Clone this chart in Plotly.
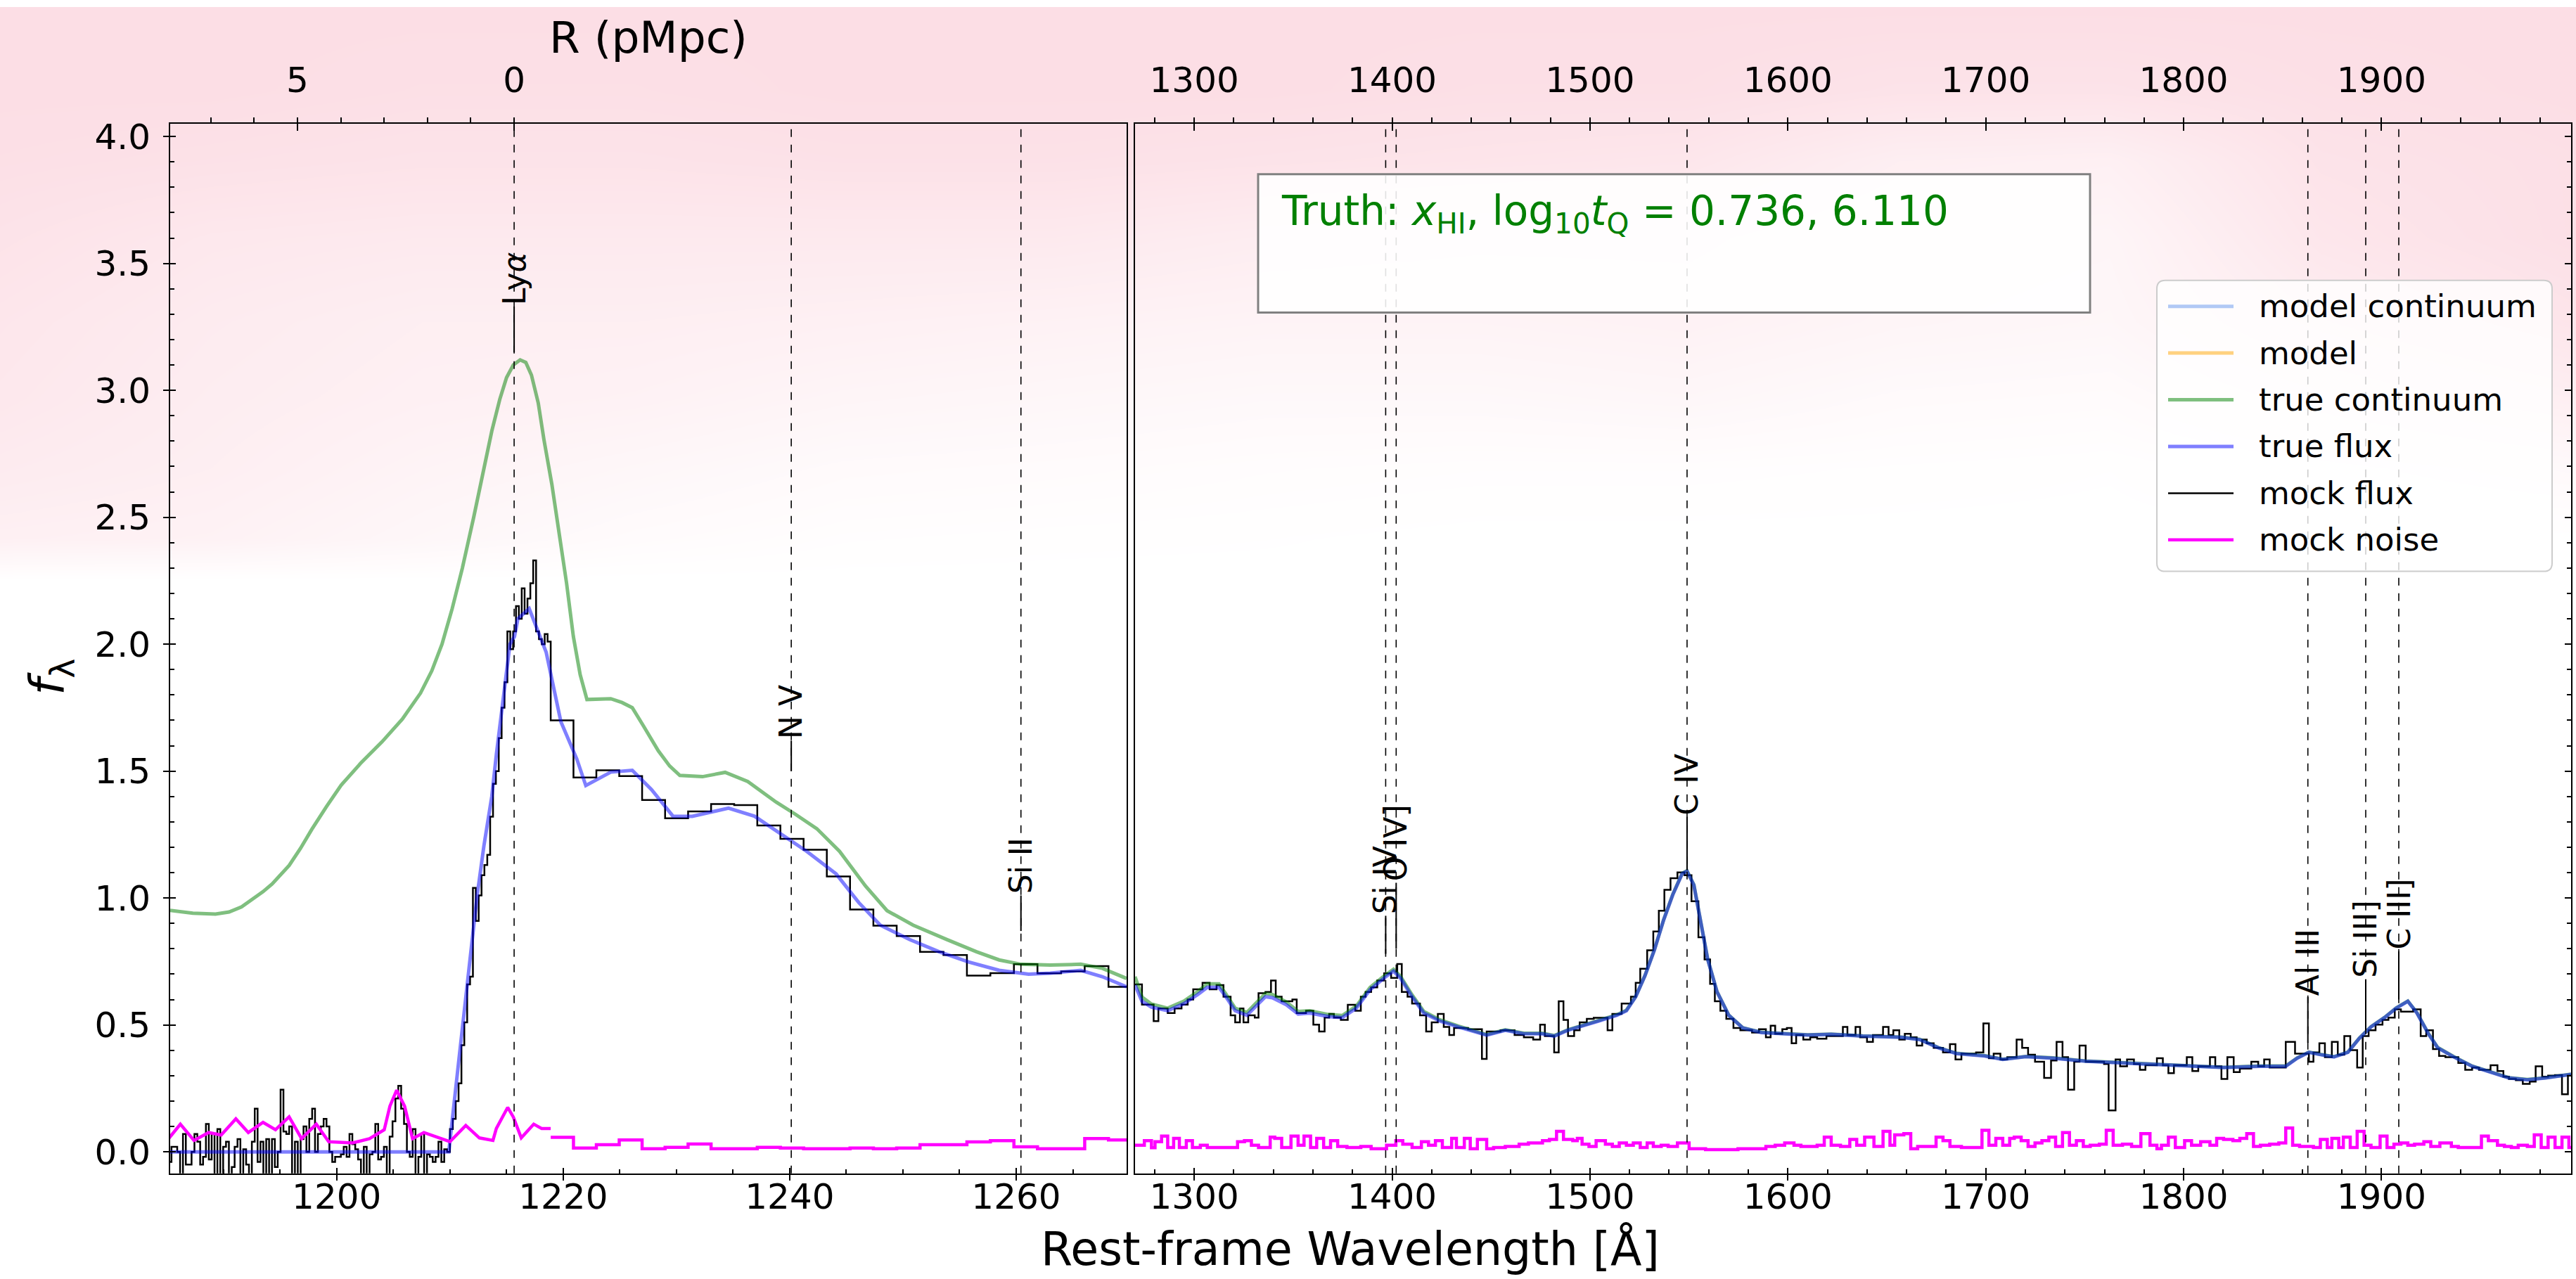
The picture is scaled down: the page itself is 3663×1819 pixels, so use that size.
import numpy as np
import plotly.graph_objects as go

W, H = 3663, 1819
FONT = "DejaVu Sans"

# ---------------------------------------------------------------------------
# Spectral data (rest-frame wavelength in Angstrom, flux f_lambda)
# ---------------------------------------------------------------------------
LYA = 1215.67
PMPC_PER_ANGSTROM = 1 / 3.826          # proper distance from the quasar per Angstrom blueward of Ly-alpha

LEFT_RANGE = [1185.3, 1269.75]
RIGHT_RANGE = [1270.1, 1995.8]
Y_RANGE = [-0.085, 4.05]

# true continuum, Ly-alpha panel
TRUE_CONT_LEFT = [
    (1185.3, 0.951), (1187.3, 0.94), (1189.3, 0.937), (1190.5, 0.945), (1191.6, 0.965),
    (1192.7, 0.998), (1193.5, 1.025), (1194.3, 1.055), (1195.8, 1.128), (1196.8, 1.195),
    (1197.8, 1.27), (1199.1, 1.36), (1200.4, 1.445), (1202.1, 1.53), (1204.0, 1.615),
    (1205.8, 1.705), (1207.4, 1.807), (1208.4, 1.895), (1209.3, 2.0), (1210.2, 2.14),
    (1211.1, 2.30), (1212.1, 2.50), (1213.0, 2.695), (1213.7, 2.84), (1214.4, 2.964),
    (1215.0, 3.05), (1215.6, 3.10), (1216.2, 3.12), (1216.7, 3.11), (1217.2, 3.06),
    (1217.8, 2.95), (1218.3, 2.806), (1219.0, 2.63), (1219.6, 2.457), (1220.3, 2.24),
    (1220.9, 2.03), (1221.5, 1.88), (1222.1, 1.782), (1224.2, 1.785), (1225.2, 1.77),
    (1226.1, 1.750), (1227.1, 1.677), (1228.4, 1.580), (1229.4, 1.52), (1230.3, 1.483),
    (1232.3, 1.478), (1234.3, 1.495), (1236.3, 1.459), (1238.8, 1.378), (1240.5, 1.33),
    (1242.4, 1.273), (1244.4, 1.184), (1246.7, 1.047), (1248.6, 0.95), (1250.9, 0.893),
    (1253.9, 0.836), (1256.5, 0.788), (1258.5, 0.756), (1260.4, 0.739), (1263.0, 0.736),
    (1265.7, 0.739), (1267.6, 0.723), (1269.75, 0.683),
]

# true (absorbed) flux, Ly-alpha panel
TRUE_FLUX_LEFT = [
    (1185.3, 0.0), (1209.9, 0.0), (1210.5, 0.245), (1211.1, 0.474), (1211.8, 0.768),
    (1212.4, 1.008), (1213.0, 1.205), (1213.7, 1.401), (1214.1, 1.565), (1215.3, 2.0),
    (1215.7, 2.03), (1216.0, 2.10), (1217.0, 2.14), (1218.5, 1.968), (1219.8, 1.694),
    (1221.2, 1.548), (1222.0, 1.443), (1224.2, 1.496), (1226.1, 1.503), (1227.8, 1.427),
    (1229.7, 1.322), (1231.4, 1.322), (1233.0, 1.337), (1234.6, 1.354), (1236.9, 1.322),
    (1238.8, 1.265), (1241.5, 1.184), (1244.1, 1.095), (1246.1, 0.982), (1248.0, 0.893),
    (1250.6, 0.836), (1253.2, 0.788), (1255.8, 0.748), (1258.5, 0.715), (1261.1, 0.70),
    (1263.0, 0.704), (1265.7, 0.715), (1267.6, 0.69), (1269.75, 0.65),
]

# true continuum, red-side panel
TRUE_CONT_RIGHT = [
    (1270.1, 0.69), (1273.6, 0.61), (1278.4, 0.582), (1286.6, 0.566), (1294.8, 0.594),
    (1301.9, 0.632), (1306.6, 0.662), (1312.5, 0.662), (1316.0, 0.622), (1320.7, 0.566),
    (1326.6, 0.549), (1331.3, 0.587), (1336.0, 0.624), (1339.5, 0.62), (1346.6, 0.59),
    (1352.5, 0.553), (1358.4, 0.556), (1367.8, 0.541), (1374.8, 0.537), (1381.9, 0.574),
    (1388.9, 0.648), (1396.0, 0.693), (1400.7, 0.719), (1404.2, 0.692), (1410.1, 0.618),
    (1416.0, 0.553), (1424.2, 0.52), (1433.6, 0.495), (1443.1, 0.472), (1447.8, 0.462),
    (1457.2, 0.481), (1466.6, 0.467), (1476.0, 0.467), (1481.9, 0.458), (1488.9, 0.481),
    (1497.2, 0.499), (1504.2, 0.517), (1513.6, 0.54), (1518.4, 0.558), (1523.1, 0.612),
    (1527.8, 0.695), (1532.5, 0.795), (1537.2, 0.914), (1541.9, 1.015), (1546.6, 1.097),
    (1549.0, 1.107), (1552.5, 1.052), (1556.0, 0.905), (1559.5, 0.759), (1564.2, 0.631),
    (1570.1, 0.539), (1577.2, 0.489), (1586.6, 0.471), (1598.4, 0.466), (1610.1, 0.461),
    (1621.9, 0.464), (1637.9, 0.457), (1657.4, 0.452), (1666.7, 0.443), (1676.0, 0.411),
    (1685.3, 0.388), (1699.3, 0.379), (1708.6, 0.365), (1720.2, 0.376), (1734.2, 0.37),
    (1750.5, 0.358), (1769.1, 0.351), (1785.3, 0.347), (1801.6, 0.341), (1820.2, 0.333),
    (1838.8, 0.338), (1851.6, 0.338), (1857.4, 0.37), (1863.3, 0.393), (1869.1, 0.384),
    (1876.0, 0.375), (1883.0, 0.393), (1888.8, 0.448), (1894.7, 0.493), (1901.6, 0.53),
    (1907.4, 0.567), (1913.3, 0.594), (1917.9, 0.548), (1923.7, 0.466), (1928.4, 0.411),
    (1936.5, 0.375), (1945.8, 0.338), (1955.1, 0.315), (1964.4, 0.292), (1973.7, 0.285),
    (1983.0, 0.292), (1995.8, 0.306),
]

# true flux, red-side panel
TRUE_FLUX_RIGHT = [
    (1270.1, 0.657), (1273.6, 0.593), (1278.4, 0.57), (1286.6, 0.556), (1294.8, 0.584),
    (1301.9, 0.62), (1306.6, 0.648), (1312.5, 0.648), (1316.0, 0.611), (1320.7, 0.556),
    (1326.6, 0.538), (1331.3, 0.575), (1336.0, 0.611), (1339.5, 0.607), (1346.6, 0.579),
    (1352.5, 0.543), (1358.4, 0.547), (1367.8, 0.533), (1374.8, 0.529), (1381.9, 0.566),
    (1388.9, 0.639), (1396.0, 0.685), (1400.7, 0.712), (1404.2, 0.685), (1410.1, 0.611),
    (1416.0, 0.547), (1424.2, 0.515), (1433.6, 0.492), (1443.1, 0.47), (1447.8, 0.46),
    (1457.2, 0.479), (1466.6, 0.465), (1476.0, 0.465), (1481.9, 0.456), (1488.9, 0.479),
    (1497.2, 0.497), (1504.2, 0.515), (1513.6, 0.538), (1518.4, 0.556), (1523.1, 0.611),
    (1527.8, 0.694), (1532.5, 0.794), (1537.2, 0.913), (1541.9, 1.014), (1546.6, 1.096),
    (1549.0, 1.106), (1552.5, 1.051), (1556.0, 0.904), (1559.5, 0.758), (1564.2, 0.630),
    (1570.1, 0.538), (1577.2, 0.488), (1586.6, 0.47), (1598.4, 0.465), (1610.1, 0.46),
    (1621.9, 0.463), (1637.9, 0.456), (1657.4, 0.451), (1666.7, 0.442), (1676.0, 0.41),
    (1685.3, 0.387), (1699.3, 0.378), (1708.6, 0.364), (1720.2, 0.375), (1734.2, 0.369),
    (1750.5, 0.357), (1769.1, 0.35), (1785.3, 0.346), (1801.6, 0.34), (1820.2, 0.332),
    (1838.8, 0.337), (1851.6, 0.337), (1857.4, 0.369), (1863.3, 0.392), (1869.1, 0.383),
    (1876.0, 0.374), (1883.0, 0.392), (1888.8, 0.447), (1894.7, 0.492), (1901.6, 0.529),
    (1907.4, 0.566), (1913.3, 0.593), (1917.9, 0.547), (1923.7, 0.465), (1928.4, 0.41),
    (1936.5, 0.374), (1945.8, 0.337), (1955.1, 0.314), (1964.4, 0.291), (1973.7, 0.284),
    (1983.0, 0.291), (1995.8, 0.305),
]

# high-resolution mock pixels around Ly-alpha (uniform pixel grid)
HIRES_WAVE0 = 1185.16
HIRES_DWAVE = 0.2535
MOCK_FLUX_HIRES = [
    -0.04, 0.02, 0.02, 0.00, -0.12, 0.07, -0.05, -0.05, 0.00, 0.07,
    0.04, -0.05, -0.02, 0.11, -0.03, 0.07, -0.12, 0.09, -0.12, 0.02,
    0.04, -0.12, -0.06, 0.02, 0.05, -0.12, 0.01, -0.05, -0.12, 0.04,
    0.17, -0.04, 0.04, -0.12, 0.05, -0.12, 0.05, -0.06, 0.00, 0.245,
    0.08, 0.07, 0.10, -0.12, 0.04, -0.12, 0.05, 0.10, 0.00, 0.13,
    0.17, 0.00, 0.07, 0.10, 0.13, 0.10, 0.00, -0.04, -0.02, -0.02,
    -0.01, 0.02, -0.02, 0.07, 0.03, 0.01, -0.03, -0.12, 0.02, -0.12,
    -0.01, 0.00, 0.11, -0.03, -0.02, 0.02, -0.12, 0.06, 0.12, 0.21,
    0.26, 0.17, 0.11, 0.00, -0.02, 0.09, -0.12, -0.02, 0.07, -0.12,
    -0.01, -0.02, -0.04, -0.02, 0.04, -0.04, 0.01, 0.00, 0.09, 0.13,
    0.20, 0.27, 0.42, 0.51, 0.66, 0.69, 1.04, 0.91, 1.01, 1.09,
    1.13, 1.17, 1.32, 1.45, 1.50, 1.63, 1.75, 1.85, 2.05, 1.98,
    2.05, 2.15, 2.10, 2.22, 2.12, 2.18, 2.24, 2.33, 2.05, 2.02,
    2.00, 2.04, 2.01,
]

# mock noise in the high-resolution window
MOCK_NOISE_HIRES = [
    (1185.16, 0.052), (1186.2, 0.109), (1187.4, 0.045), (1188.7, 0.076), (1189.8, 0.066),
    (1191.1, 0.13), (1192.2, 0.076), (1193.5, 0.116), (1194.6, 0.087), (1195.8, 0.138),
    (1196.9, 0.052), (1198.2, 0.109), (1199.3, 0.04), (1201.4, 0.035), (1202.9, 0.052),
    (1204.2, 0.087), (1204.7, 0.18), (1205.3, 0.243), (1206.0, 0.18), (1206.7, 0.052),
    (1207.7, 0.076), (1209.0, 0.055), (1210.0, 0.04), (1211.4, 0.104), (1212.6, 0.055),
    (1213.8, 0.045), (1214.1, 0.092), (1215.1, 0.175), (1215.6, 0.137), (1216.3, 0.055),
    (1217.4, 0.109), (1218.1, 0.092), (1218.9, 0.092),
]

# coarse spectrograph bins redward of the high-resolution window (left panel)
COARSE_EDGES_LEFT = [
    1218.90, 1220.91, 1222.93, 1224.95, 1226.97, 1229.00, 1231.03, 1233.06, 1235.10,
    1237.14, 1239.18, 1241.23, 1243.28, 1245.33, 1247.39, 1249.45, 1251.51, 1253.58,
    1255.65, 1257.72, 1259.80, 1261.88, 1263.97, 1266.05, 1268.15, 1270.24,
]
MOCK_FLUX_COARSE_LEFT = [
    1.70, 1.475, 1.503, 1.48, 1.386, 1.314, 1.341, 1.37, 1.366, 1.286, 1.233, 1.19,
    1.085, 0.955, 0.891, 0.85, 0.788, 0.775, 0.694, 0.704, 0.739, 0.703, 0.711, 0.732, 0.65,
]
MOCK_NOISE_COARSE_LEFT = [
    0.057, 0.015, 0.028, 0.047, 0.012, 0.018, 0.031, 0.012, 0.012, 0.018, 0.015, 0.012,
    0.012, 0.015, 0.012, 0.015, 0.028, 0.028, 0.039, 0.044, 0.020, 0.012, 0.012, 0.052, 0.047,
]

# mock flux steps, red-side panel: (bin start, value); last entry closes the final bin
MOCK_FLUX_RIGHT = [
    (1270.1, 0.66), (1273.6, 0.58), (1279.5, 0.515), (1281.9, 0.565), (1286.6, 0.547),
    (1290.1, 0.565), (1293.6, 0.58), (1296.7, 0.60), (1299.5, 0.64), (1304.2, 0.666),
    (1307.8, 0.64), (1311.3, 0.657), (1314.8, 0.611), (1318.4, 0.538), (1320.7, 0.51),
    (1323.1, 0.565), (1324.9, 0.51), (1327.3, 0.538), (1330.6, 0.529), (1332.5, 0.625),
    (1336.0, 0.63), (1338.8, 0.675), (1341.2, 0.611), (1344.2, 0.593), (1349.6, 0.60),
    (1351.8, 0.547), (1356.5, 0.556), (1360.2, 0.501), (1363.1, 0.474), (1365.9, 0.529),
    (1368.2, 0.543), (1370.6, 0.529), (1374.1, 0.52), (1377.6, 0.579), (1381.4, 0.556),
    (1384.2, 0.611), (1386.6, 0.63), (1389.4, 0.648), (1392.5, 0.675), (1396.0, 0.703),
    (1399.5, 0.685), (1402.6, 0.74), (1404.9, 0.63), (1407.8, 0.611), (1410.1, 0.584),
    (1414.1, 0.538), (1417.2, 0.474), (1420.0, 0.51), (1423.1, 0.543), (1426.1, 0.492),
    (1428.9, 0.46), (1431.3, 0.488), (1438.4, 0.483), (1445.4, 0.366), (1447.8, 0.474),
    (1454.8, 0.479), (1461.9, 0.46), (1466.6, 0.451), (1471.3, 0.442), (1474.8, 0.501),
    (1477.2, 0.456), (1481.9, 0.392), (1484.2, 0.593), (1486.6, 0.52), (1488.9, 0.456),
    (1492.0, 0.479), (1494.8, 0.51), (1498.4, 0.524), (1501.9, 0.528), (1508.9, 0.479),
    (1511.3, 0.543), (1516.0, 0.584), (1520.7, 0.611), (1523.1, 0.666), (1525.4, 0.721),
    (1528.9, 0.794), (1532.0, 0.868), (1534.8, 0.95), (1537.6, 1.032), (1540.7, 1.078),
    (1544.2, 1.101), (1547.8, 1.09), (1551.3, 0.987), (1554.8, 0.845), (1557.9, 0.758),
    (1560.7, 0.662), (1563.1, 0.593), (1565.9, 0.556), (1568.9, 0.524), (1572.5, 0.488),
    (1576.0, 0.479), (1581.9, 0.47), (1585.4, 0.483), (1588.9, 0.451), (1591.3, 0.497),
    (1593.6, 0.465), (1597.2, 0.483), (1599.5, 0.488), (1601.9, 0.428), (1604.2, 0.46),
    (1607.8, 0.442), (1611.3, 0.451), (1614.8, 0.446), (1619.5, 0.456), (1627.8, 0.492),
    (1630.1, 0.46), (1634.2, 0.492), (1636.5, 0.451), (1640.0, 0.433), (1643.0, 0.46),
    (1648.1, 0.492), (1650.9, 0.46), (1653.3, 0.479), (1656.3, 0.442), (1659.1, 0.465),
    (1662.1, 0.451), (1665.1, 0.419), (1667.9, 0.442), (1670.2, 0.428), (1673.7, 0.41),
    (1678.4, 0.392), (1681.9, 0.424), (1684.7, 0.364), (1687.7, 0.387), (1695.1, 0.392),
    (1698.8, 0.506), (1701.6, 0.369), (1704.0, 0.387), (1707.4, 0.364), (1710.9, 0.373),
    (1715.6, 0.442), (1718.4, 0.41), (1721.4, 0.383), (1724.9, 0.355), (1729.5, 0.291),
    (1733.0, 0.36), (1735.8, 0.433), (1738.8, 0.373), (1741.6, 0.245), (1744.7, 0.355),
    (1747.4, 0.419), (1750.5, 0.355), (1759.8, 0.346), (1762.1, 0.163), (1765.6, 0.364),
    (1767.9, 0.337), (1771.4, 0.364), (1774.9, 0.346), (1777.9, 0.323), (1780.7, 0.341),
    (1786.5, 0.369), (1789.5, 0.341), (1792.3, 0.31), (1795.1, 0.341), (1801.6, 0.373),
    (1804.4, 0.318), (1807.4, 0.337), (1813.3, 0.373), (1816.0, 0.337), (1819.1, 0.287),
    (1822.1, 0.373), (1825.3, 0.314), (1828.4, 0.328), (1834.2, 0.355), (1837.7, 0.337),
    (1840.7, 0.364), (1843.5, 0.332), (1851.6, 0.433), (1856.3, 0.387), (1863.3, 0.355),
    (1865.6, 0.392), (1868.6, 0.428), (1871.4, 0.373), (1874.9, 0.433), (1877.9, 0.383),
    (1881.2, 0.456), (1884.2, 0.401), (1887.7, 0.332), (1890.5, 0.456), (1893.5, 0.479),
    (1897.0, 0.501), (1900.5, 0.52), (1903.5, 0.529), (1906.7, 0.561), (1909.8, 0.552),
    (1916.0, 0.561), (1919.8, 0.456), (1922.6, 0.479), (1926.0, 0.405), (1929.1, 0.378),
    (1932.3, 0.373), (1938.8, 0.35), (1942.3, 0.323), (1945.8, 0.332), (1949.3, 0.323),
    (1955.1, 0.341), (1958.6, 0.318), (1961.6, 0.296), (1964.4, 0.287), (1967.9, 0.282),
    (1971.4, 0.268), (1974.9, 0.277), (1977.9, 0.337), (1981.2, 0.296), (1984.2, 0.30),
    (1987.7, 0.302), (1991.2, 0.227), (1994.2, 0.30), (1996.4, 0.30),
]

# mock noise steps, red-side panel
MOCK_NOISE_RIGHT = [
    (1270.1, 0.026), (1274.8, 0.044), (1278.4, 0.016), (1280.2, 0.040), (1283.5, 0.062),
    (1286.6, 0.017), (1289.6, 0.053), (1292.5, 0.017), (1296.0, 0.044), (1299.1, 0.017),
    (1303.1, 0.026), (1306.6, 0.017), (1321.9, 0.040), (1325.4, 0.044), (1328.9, 0.026),
    (1332.5, 0.017), (1338.4, 0.058), (1340.7, 0.053), (1344.2, 0.017), (1348.9, 0.062),
    (1352.5, 0.026), (1355.5, 0.062), (1358.8, 0.017), (1361.9, 0.053), (1365.4, 0.017),
    (1368.9, 0.044), (1372.5, 0.021), (1377.2, 0.017), (1384.2, 0.021), (1389.4, 0.012),
    (1397.2, 0.026), (1401.9, 0.044), (1405.4, 0.030), (1410.1, 0.017), (1414.8, 0.040),
    (1418.4, 0.026), (1421.9, 0.044), (1425.4, 0.017), (1430.1, 0.053), (1432.5, 0.017),
    (1436.5, 0.053), (1439.5, 0.012), (1443.1, 0.049), (1447.8, 0.012), (1451.3, 0.017),
    (1457.2, 0.021), (1464.2, 0.030), (1468.9, 0.035), (1476.0, 0.044), (1479.5, 0.049),
    (1483.1, 0.081), (1486.6, 0.049), (1491.3, 0.044), (1493.6, 0.053), (1496.0, 0.030),
    (1499.5, 0.021), (1503.1, 0.044), (1507.8, 0.030), (1511.3, 0.021), (1514.8, 0.035),
    (1518.4, 0.026), (1521.9, 0.035), (1525.4, 0.017), (1528.9, 0.035), (1532.0, 0.021),
    (1536.0, 0.026), (1539.5, 0.021), (1544.2, 0.035), (1550.1, 0.012), (1558.4, 0.009),
    (1574.8, 0.012), (1588.9, 0.021), (1593.6, 0.026), (1598.4, 0.035), (1603.1, 0.026),
    (1606.6, 0.021), (1614.8, 0.026), (1618.4, 0.058), (1621.9, 0.026), (1626.6, 0.021),
    (1631.3, 0.049), (1634.8, 0.026), (1638.8, 0.058), (1643.5, 0.021), (1648.1, 0.081),
    (1651.6, 0.026), (1654.0, 0.067), (1658.6, 0.072), (1662.1, 0.012), (1665.6, 0.021),
    (1674.9, 0.058), (1678.4, 0.044), (1681.9, 0.021), (1687.7, 0.017), (1698.1, 0.085),
    (1701.6, 0.026), (1705.1, 0.053), (1708.6, 0.026), (1712.1, 0.053), (1714.4, 0.058),
    (1717.9, 0.044), (1721.4, 0.021), (1724.9, 0.035), (1728.4, 0.044), (1731.9, 0.058),
    (1735.3, 0.021), (1738.8, 0.076), (1742.3, 0.026), (1745.8, 0.044), (1749.3, 0.021),
    (1752.8, 0.026), (1757.4, 0.030), (1760.9, 0.085), (1764.4, 0.026), (1769.1, 0.030),
    (1773.7, 0.021), (1778.4, 0.072), (1783.0, 0.026), (1786.5, 0.012), (1788.8, 0.026),
    (1792.3, 0.058), (1795.8, 0.017), (1800.5, 0.044), (1804.0, 0.026), (1808.6, 0.040),
    (1813.3, 0.026), (1816.7, 0.053), (1820.2, 0.049), (1824.9, 0.044), (1828.4, 0.053),
    (1831.9, 0.072), (1835.3, 0.021), (1838.8, 0.026), (1843.5, 0.030), (1848.1, 0.035),
    (1851.6, 0.094), (1855.1, 0.026), (1858.6, 0.021), (1865.6, 0.017), (1869.1, 0.049),
    (1872.6, 0.017), (1874.9, 0.053), (1878.4, 0.017), (1880.7, 0.058), (1884.2, 0.017),
    (1887.7, 0.081), (1891.2, 0.026), (1894.7, 0.017), (1899.3, 0.062), (1902.8, 0.017),
    (1906.3, 0.030), (1909.8, 0.035), (1913.3, 0.026), (1916.7, 0.030), (1921.4, 0.040),
    (1924.9, 0.021), (1929.5, 0.035), (1935.3, 0.021), (1938.8, 0.017), (1950.5, 0.062),
    (1954.0, 0.044), (1958.6, 0.026), (1962.1, 0.021), (1965.6, 0.017), (1969.1, 0.026),
    (1973.7, 0.021), (1977.2, 0.067), (1980.7, 0.017), (1984.2, 0.058), (1987.7, 0.017),
    (1991.2, 0.058), (1994.7, 0.017), (1996.4, 0.017),
]

# emission lines: rest wavelength, label, label base height, connector foot height
LINE_WAVES = [1215.67, 1240.14, 1260.42, 1396.76, 1402.06, 1549.06, 1862.79, 1892.03, 1908.73]
LINE_NAMES = ["Ly<i>α</i>", "N V", "Si II", "Si IV", "O IV]", "C IV", "Al III", "Si III]", "C III]"]
LINE_LABEL_Y = [3.33, 1.62, 1.01, 0.93, 1.06, 1.32, 0.61, 0.68, 0.79]
LINE_FOOT_Y = [3.15, 1.50, 0.87, 0.78, 0.80, 1.11, 0.43, 0.48, 0.60]

LEGEND_LABELS = ["model continuum", "model", "true continuum", "true flux", "mock flux", "mock noise"]

TRUTH_XHI = 0.736
TRUTH_LOGTQ = 6.110

# soft pink wash behind the figure (pixel grid, 0 = white, 1 = full tint)
HAZE_X = [0, 300, 600, 900, 1200, 1500, 1800, 2100, 2400, 2700, 3000, 3300, 3663]
HAZE_Y = [0, 120, 220, 330, 450, 560, 660, 760, 820, 1819]
HAZE_Z = [
    [1.00, 1.00, 1.00, 1.00, 1.00, 1.00, 1.00, 1.00, 1.00, 1.00, 1.00, 1.00, 1.00],
    [1.00, 1.00, 0.95, 0.95, 1.00, 1.00, 1.00, 0.95, 0.95, 0.85, 0.85, 0.95, 1.00],
    [0.95, 0.90, 0.85, 0.85, 0.90, 0.90, 0.85, 0.80, 0.75, 0.50, 0.45, 0.85, 0.95],
    [0.85, 0.70, 0.65, 0.65, 0.65, 0.65, 0.55, 0.50, 0.50, 0.35, 0.30, 0.75, 0.95],
    [0.75, 0.60, 0.50, 0.50, 0.45, 0.40, 0.35, 0.35, 0.40, 0.30, 0.25, 0.55, 0.80],
    [0.70, 0.55, 0.45, 0.40, 0.30, 0.25, 0.20, 0.20, 0.25, 0.15, 0.12, 0.30, 0.50],
    [0.60, 0.50, 0.35, 0.25, 0.15, 0.12, 0.08, 0.06, 0.06, 0.04, 0.02, 0.08, 0.18],
    [0.45, 0.40, 0.25, 0.12, 0.05, 0.03, 0.02, 0.00, 0.00, 0.00, 0.00, 0.00, 0.00],
    [0.00] * 13,
    [0.00] * 13,
]

# ---------------------------------------------------------------------------
# Styling
# ---------------------------------------------------------------------------
C_MODEL_CONT = "rgba(100,149,237,0.5)"
C_MODEL = "rgba(255,165,0,0.5)"
C_TRUE_CONT = "rgba(0,128,0,0.5)"
C_TRUE_FLUX = "rgba(0,0,255,0.5)"
C_MOCK = "black"
C_NOISE = "magenta"
LEGEND_COLORS = [C_MODEL_CONT, C_MODEL, C_TRUE_CONT, C_TRUE_FLUX, C_MOCK, C_NOISE]
LEGEND_WIDTHS = [5, 5, 5, 5, 2.5, 4.5]

# panel placement in figure pixels
LEFT_PX = (242, 1602)
RIGHT_PX = (1614, 3656)
TOP_PX, BOTTOM_PX = 167, 1668


def px(x):
    return x / W


def py(y):
    return 1 - y / H


def split(pairs):
    return [p[0] for p in pairs], [p[1] for p in pairs]


XL = [px(LEFT_PX[0]), px(LEFT_PX[1])]
XR = [px(RIGHT_PX[0]), px(RIGHT_PX[1])]
YD = [py(BOTTOM_PX), py(TOP_PX)]

fig = go.Figure()

# background wash
fig.add_trace(go.Heatmap(
    x=HAZE_X, y=HAZE_Y, z=HAZE_Z, zmin=0, zmax=1, zsmooth="best",
    colorscale=[[0, "rgb(255,255,255)"], [1, "rgb(252,222,229)"]],
    showscale=False, hoverinfo="skip", xaxis="x", yaxis="y",
))

# ---- left panel: mock flux (high-res window + coarse bins) ----
hires_edges = HIRES_WAVE0 + HIRES_DWAVE * np.arange(len(MOCK_FLUX_HIRES))
mock_left_x = list(hires_edges) + list(COARSE_EDGES_LEFT)
mock_left_y = list(MOCK_FLUX_HIRES) + list(MOCK_FLUX_COARSE_LEFT) + [MOCK_FLUX_COARSE_LEFT[-1]]
fig.add_trace(go.Scatter(x=mock_left_x, y=mock_left_y, mode="lines", line_shape="hv",
                         line=dict(color=C_MOCK, width=2.5), name="mock flux",
                         xaxis="x2", yaxis="y2"))

wl, fl = split(TRUE_CONT_LEFT)
fig.add_trace(go.Scatter(x=wl, y=fl, mode="lines", line=dict(color=C_TRUE_CONT, width=5),
                         name="true continuum", xaxis="x2", yaxis="y2"))
wl, fl = split(TRUE_FLUX_LEFT)
fig.add_trace(go.Scatter(x=wl, y=fl, mode="lines", line=dict(color=C_TRUE_FLUX, width=5),
                         name="true flux", xaxis="x2", yaxis="y2"))

wl, fl = split(MOCK_NOISE_HIRES)
fig.add_trace(go.Scatter(x=wl, y=fl, mode="lines", line=dict(color=C_NOISE, width=4.5),
                         name="mock noise", xaxis="x2", yaxis="y2"))
fig.add_trace(go.Scatter(x=COARSE_EDGES_LEFT,
                         y=list(MOCK_NOISE_COARSE_LEFT) + [MOCK_NOISE_COARSE_LEFT[-1]],
                         mode="lines", line_shape="hv", line=dict(color=C_NOISE, width=4.5),
                         name="mock noise", xaxis="x2", yaxis="y2"))

# ---- right panel ----
wl, fl = split(MOCK_FLUX_RIGHT)
fig.add_trace(go.Scatter(x=wl, y=fl, mode="lines", line_shape="hv",
                         line=dict(color=C_MOCK, width=2.5), name="mock flux",
                         xaxis="x3", yaxis="y3"))
wl, fl = split(TRUE_CONT_RIGHT)
fig.add_trace(go.Scatter(x=wl, y=fl, mode="lines", line=dict(color=C_TRUE_CONT, width=5),
                         name="true continuum", xaxis="x3", yaxis="y3"))
wl, fl = split(TRUE_FLUX_RIGHT)
fig.add_trace(go.Scatter(x=wl, y=fl, mode="lines", line=dict(color=C_TRUE_FLUX, width=5),
                         name="true flux", xaxis="x3", yaxis="y3"))
wl, fl = split(MOCK_NOISE_RIGHT)
fig.add_trace(go.Scatter(x=wl, y=fl, mode="lines", line_shape="hv",
                         line=dict(color=C_NOISE, width=4.5), name="mock noise",
                         xaxis="x3", yaxis="y3"))

# ---------------------------------------------------------------------------
# Axes
# ---------------------------------------------------------------------------
TICKFONT = dict(family=FONT, size=50, color="black")
R_RANGE = [(LYA - LEFT_RANGE[0]) * PMPC_PER_ANGSTROM, (LYA - LEFT_RANGE[1]) * PMPC_PER_ANGSTROM]
Y_TICKS = [0.5 * i for i in range(9)]
LEFT_TICKS = [1200, 1220, 1240, 1260]
RIGHT_TICKS = [1300, 1400, 1500, 1600, 1700, 1800, 1900]

# invisible anchors so every overlaid tick axis gets its own subplot
for xa, ya, xv, yv in [("x4", "y2", R_RANGE[0], 1.0), ("x5", "y3", RIGHT_RANGE[0], 1.0),
                       ("x6", "y2", LEFT_RANGE[0], 1.0), ("x7", "y3", RIGHT_RANGE[0], 1.0),
                       ("x8", "y2", R_RANGE[0], 1.0), ("x9", "y3", RIGHT_RANGE[0], 1.0),
                       ("x2", "y4", LEFT_RANGE[0], 1.0)]:
    fig.add_trace(go.Scatter(x=[xv], y=[yv], mode="markers", marker=dict(opacity=0, size=1),
                             xaxis=xa, yaxis=ya, showlegend=False))

fig.update_traces(hoverinfo="skip", selector=dict(type="scatter"))

base = dict(showgrid=False, zeroline=False, tickfont=TICKFONT, tickcolor="black",
            tickwidth=2, linecolor="black", linewidth=2, autorange=False)

layout_axes = dict(
    xaxis=dict(domain=[0, 1], range=[0, W], visible=False, fixedrange=True),
    yaxis=dict(domain=[0, 1], range=[H, 0], visible=False, fixedrange=True),
    xaxis2=dict(base, domain=XL, anchor="y2", range=LEFT_RANGE, showline=True, mirror=True,
                tickmode="array", tickvals=LEFT_TICKS, ticks="outside", ticklen=8,
                ticklabelstandoff=-20,
                minor=dict(tickmode="linear", tick0=1200, dtick=5, ticks="inside",
                           ticklen=6, tickwidth=2, tickcolor="black")),
    xaxis3=dict(base, domain=XR, anchor="y3", range=RIGHT_RANGE, showline=True, mirror=True,
                tickmode="array", tickvals=RIGHT_TICKS, ticks="outside", ticklen=8,
                ticklabelstandoff=-20,
                minor=dict(tickmode="linear", tick0=1300, dtick=20, ticks="inside",
                           ticklen=6, tickwidth=2, tickcolor="black")),
    yaxis2=dict(base, domain=YD, anchor="x2", range=Y_RANGE, showline=True, mirror=True,
                tickmode="array", tickvals=Y_TICKS, ticktext=[f"{v:.1f}" for v in Y_TICKS],
                ticks="outside", ticklen=8, ticklabelstandoff=8,
                minor=dict(tickmode="linear", tick0=0, dtick=0.1, ticks="inside",
                           ticklen=6, tickwidth=2, tickcolor="black")),
    yaxis3=dict(base, domain=YD, anchor="x3", side="right", range=Y_RANGE, showline=True,
                mirror=True, showticklabels=False, tickmode="array", tickvals=Y_TICKS,
                ticks="inside", ticklen=9,
                minor=dict(tickmode="linear", tick0=0, dtick=0.1, ticks="inside",
                           ticklen=6, tickwidth=2, tickcolor="black")),
    # top axis of the left panel: distance from the quasar
    xaxis4=dict(base, overlaying="x2", anchor="y2", side="top", range=R_RANGE,
                showline=False, tickmode="array", tickvals=[5, 0], ticktext=["5", "0"],
                ticks="outside", ticklen=8, ticklabelstandoff=16,
                minor=dict(tickmode="array", tickvals=[1, 2, 3, 4, 6, 7], ticks="outside",
                           ticklen=8, tickwidth=2, tickcolor="black")),
    # top axis of the right panel: wavelength
    xaxis5=dict(base, overlaying="x3", anchor="y3", side="top", range=RIGHT_RANGE,
                showline=False, tickmode="array", tickvals=RIGHT_TICKS, ticks="outside",
                ticklen=8, ticklabelstandoff=16,
                minor=dict(tickmode="linear", tick0=1300, dtick=20, ticks="outside",
                           ticklen=8, tickwidth=2, tickcolor="black")),
    # inward halves of the major ticks
    xaxis6=dict(base, overlaying="x2", anchor="y2", side="bottom", range=LEFT_RANGE,
                showline=False, showticklabels=False, tickmode="array", tickvals=LEFT_TICKS,
                ticks="inside", ticklen=8),
    xaxis7=dict(base, overlaying="x3", anchor="y3", side="bottom", range=RIGHT_RANGE,
                showline=False, showticklabels=False, tickmode="array", tickvals=RIGHT_TICKS,
                ticks="inside", ticklen=8),
    xaxis8=dict(base, overlaying="x2", anchor="y2", side="top", range=R_RANGE,
                showline=False, showticklabels=False, tickmode="array", tickvals=[5, 0],
                ticks="inside", ticklen=10),
    xaxis9=dict(base, overlaying="x3", anchor="y3", side="top", range=RIGHT_RANGE,
                showline=False, showticklabels=False, tickmode="array", tickvals=RIGHT_TICKS,
                ticks="inside", ticklen=10),
    yaxis4=dict(base, overlaying="y2", anchor="x2", side="left", range=Y_RANGE,
                showline=False, showticklabels=False, tickmode="array", tickvals=Y_TICKS,
                ticks="inside", ticklen=8),
)

# ---------------------------------------------------------------------------
# Line markers, boxes, legend
# ---------------------------------------------------------------------------
shapes = []
annotations = []
for wave, name, ylab, yfoot in zip(LINE_WAVES, LINE_NAMES, LINE_LABEL_Y, LINE_FOOT_Y):
    xr, yr = ("x2", "y2") if wave < LEFT_RANGE[1] else ("x3", "y3")
    shapes.append(dict(type="line", xref=xr, yref=f"{yr} domain", x0=wave, x1=wave, y0=0, y1=1,
                       line=dict(color="black", width=1.6, dash="11px,11px"), layer="above"))
    shapes.append(dict(type="line", xref=xr, yref=yr, x0=wave, x1=wave, y0=yfoot, y1=ylab,
                       line=dict(color="black", width=2), layer="above"))
    annotations.append(dict(x=wave, y=ylab, xref=xr, yref=yr, text=name, textangle=-90,
                            xanchor="center", yanchor="bottom", showarrow=False,
                            font=dict(family=FONT, size=44, color="black")))

# parameter box
shapes.append(dict(type="rect", xref="paper", yref="paper",
                   x0=px(1789), x1=px(2972), y0=py(437), y1=py(239),
                   fillcolor="rgba(255,255,255,0.88)", line=dict(color="rgb(128,128,128)", width=3),
                   layer="above"))
annotations.append(dict(
    x=px(1820), y=py(296), xref="paper", yref="paper", xanchor="left", yanchor="middle",
    text=(f"Truth: <i>x</i><sub>HI</sub>, log<sub>10</sub><i>t</i><sub>Q</sub> = "
          f"{TRUTH_XHI:.3f}, {TRUTH_LOGTQ:.3f}"),
    showarrow=False, font=dict(family=FONT, size=58, color="green")))


def rounded_rect(x0, y0, x1, y1, r):
    X = lambda v: f"{px(v):.6f}"
    Y = lambda v: f"{py(v):.6f}"
    return (f"M {X(x0 + r)},{Y(y0)} L {X(x1 - r)},{Y(y0)} Q {X(x1)},{Y(y0)} {X(x1)},{Y(y0 + r)} "
            f"L {X(x1)},{Y(y1 - r)} Q {X(x1)},{Y(y1)} {X(x1 - r)},{Y(y1)} "
            f"L {X(x0 + r)},{Y(y1)} Q {X(x0)},{Y(y1)} {X(x0)},{Y(y1 - r)} "
            f"L {X(x0)},{Y(y0 + r)} Q {X(x0)},{Y(y0)} {X(x0 + r)},{Y(y0)} Z")


LEG_BOX = (3067, 391, 3629, 807)
LEG_ROW0, LEG_ROW_STEP = 428, 66.8
shapes.append(dict(type="path", xref="paper", yref="paper", path=rounded_rect(*LEG_BOX, 12),
                   fillcolor="rgba(255,255,255,0.8)", line=dict(color="rgb(204,204,204)", width=2),
                   layer="above"))
for i, (label, color, lw) in enumerate(zip(LEGEND_LABELS, LEGEND_COLORS, LEGEND_WIDTHS)):
    yrow = LEG_ROW0 + i * LEG_ROW_STEP
    shapes.append(dict(type="line", xref="paper", yref="paper", x0=px(3083), x1=px(3176),
                       y0=py(yrow), y1=py(yrow), line=dict(color=color, width=lw), layer="above"))
    annotations.append(dict(x=px(3210), y=py(yrow), xref="paper", yref="paper", text=label,
                            xanchor="left", yanchor="middle", showarrow=False,
                            font=dict(family=FONT, size=45, color="black")))

# axis titles
annotations.append(dict(x=px((LEFT_PX[0] + LEFT_PX[1]) / 2), y=py(44), xref="paper", yref="paper",
                        text="R (pMpc)", showarrow=False, xanchor="center", yanchor="middle",
                        font=dict(family=FONT, size=63, color="black")))
annotations.append(dict(x=px(1920), y=py(1776), xref="paper", yref="paper",
                        text="Rest-frame Wavelength [Å]", showarrow=False, xanchor="center",
                        yanchor="middle", font=dict(family=FONT, size=65, color="black")))
annotations.append(dict(x=px(72), y=py(958), xref="paper", yref="paper",
                        text="<i>f</i><sub>λ</sub>", textangle=-90, showarrow=False,
                        xanchor="center", yanchor="middle",
                        font=dict(family=FONT, size=68, color="black")))

fig.update_layout(
    width=W, height=H, margin=dict(l=0, r=0, t=0, b=0, pad=0),
    paper_bgcolor="white", plot_bgcolor="rgba(0,0,0,0)",
    showlegend=False, shapes=shapes, annotations=annotations,
    font=dict(family=FONT, color="black"),
    **layout_axes,
)

fig.write_html("out.html")
